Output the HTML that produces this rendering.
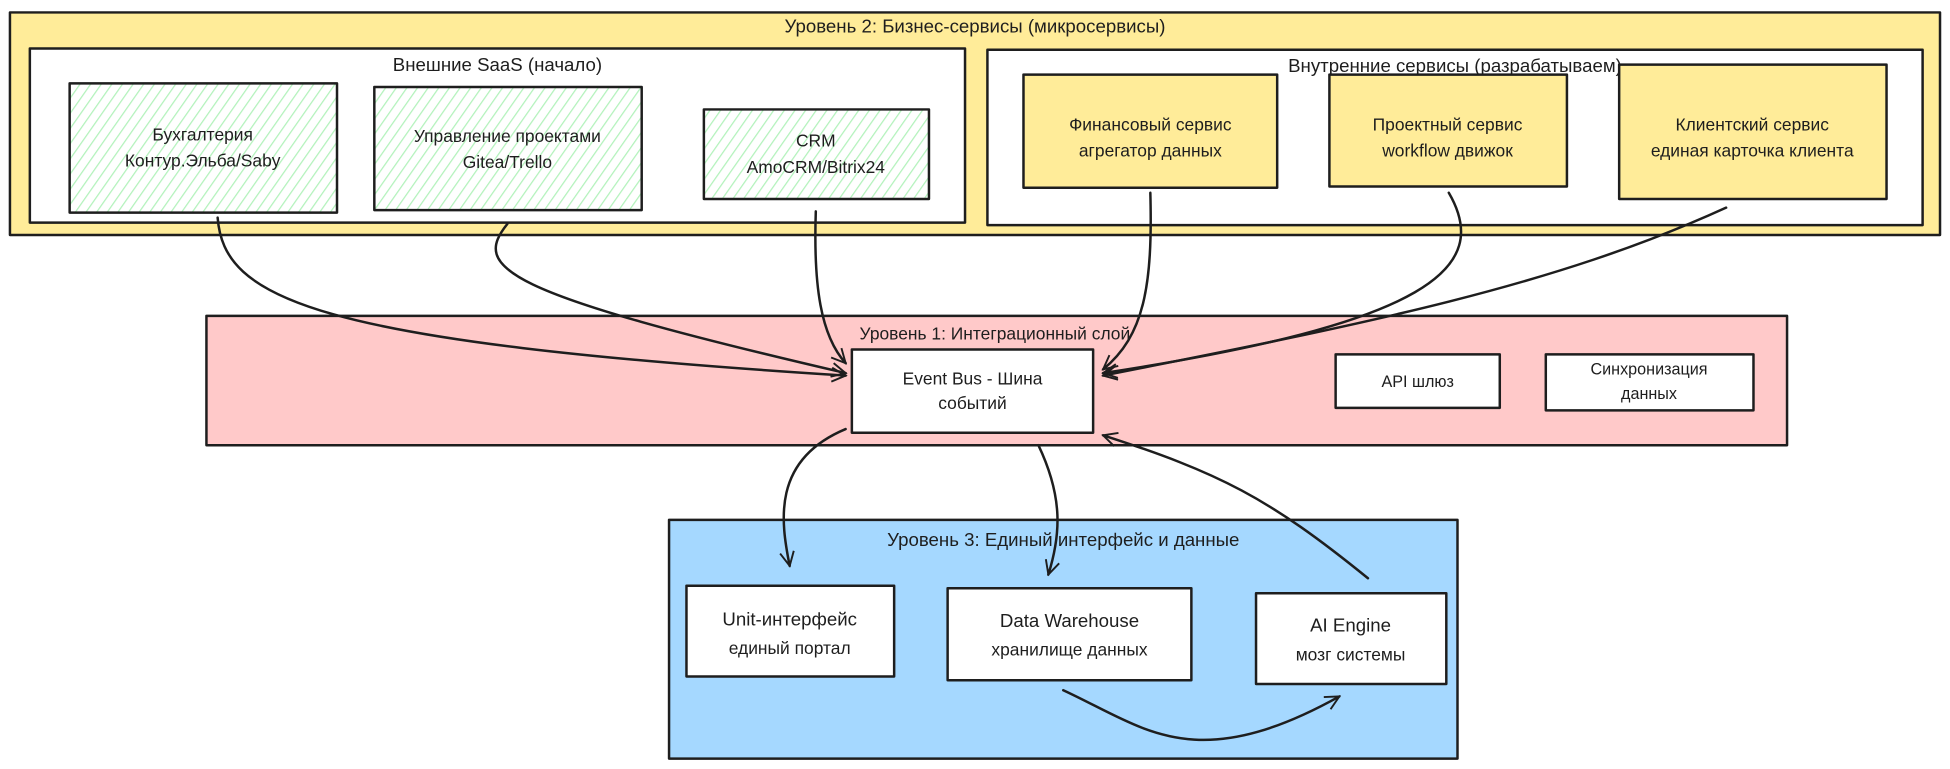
<!DOCTYPE html>
<html><head><meta charset="utf-8">
<style>
html,body{margin:0;padding:0;background:#fff;width:1950px;height:769px;overflow:hidden}
svg{display:block}
text{font-family:"Liberation Sans","Noto Sans CJK SC",sans-serif;fill:#1e1e1e}
</style></head><body>
<svg width="1950" height="769" viewBox="0 0 1950 769" xmlns="http://www.w3.org/2000/svg">
<defs>
<pattern id="h" width="7" height="7" patternUnits="userSpaceOnUse" patternTransform="rotate(35)">
<rect width="7" height="7" fill="#fff"/>
<line x1="0" y1="0" x2="0" y2="7" stroke="#b2f2bb" stroke-width="2"/>
</pattern>
<marker id="a" viewBox="0 0 20 20" refX="18" refY="10" markerWidth="14" markerHeight="14" orient="auto" markerUnits="userSpaceOnUse">
<polyline points="2,2 18,10 2,18" fill="none" stroke="#1e1e1e" stroke-width="2.2"/>
</marker>
</defs>
<g transform="scale(1.2436)" stroke-linejoin="round">
<rect x="8" y="10" width="1552" height="179" fill="#ffec99" stroke="#1e1e1e" stroke-width="2"/>
<text x="784" y="26" font-size="15" text-anchor="middle">Уровень 2: Бизнес-сервисы (микросервисы)</text>
<rect x="24" y="39" width="752" height="140" fill="#fff" stroke="#1e1e1e" stroke-width="2"/>
<text x="400" y="57" font-size="15" text-anchor="middle">Внешние SaaS (начало)</text>
<rect x="56" y="67" width="215" height="104" fill="url(#h)" stroke="#1e1e1e" stroke-width="2"/>
<text x="163" y="113" font-size="14" text-anchor="middle">Бухгалтерия</text>
<text x="163" y="134" font-size="14" text-anchor="middle">Контур.Эльба/Saby</text>
<rect x="301" y="70" width="215" height="99" fill="url(#h)" stroke="#1e1e1e" stroke-width="2"/>
<text x="408" y="114" font-size="14" text-anchor="middle">Управление проектами</text>
<text x="408" y="135" font-size="14" text-anchor="middle">Gitea/Trello</text>
<rect x="566" y="88" width="181" height="72" fill="url(#h)" stroke="#1e1e1e" stroke-width="2"/>
<text x="656" y="118" font-size="14" text-anchor="middle">CRM</text>
<text x="656" y="139" font-size="14" text-anchor="middle">AmoCRM/Bitrix24</text>

<rect x="794" y="40" width="752" height="141" fill="#fff" stroke="#1e1e1e" stroke-width="2"/>
<text x="1170" y="58" font-size="15" text-anchor="middle">Внутренние сервисы (разрабатываем)</text>
<rect x="823" y="60" width="204" height="91" fill="#ffec99" stroke="#1e1e1e" stroke-width="2"/>
<text x="925" y="105" font-size="14" text-anchor="middle">Финансовый сервис</text>
<text x="925" y="126" font-size="14" text-anchor="middle">агрегатор данных</text>
<rect x="1069" y="60" width="191" height="90" fill="#ffec99" stroke="#1e1e1e" stroke-width="2"/>
<text x="1164" y="105" font-size="14" text-anchor="middle">Проектный сервис</text>
<text x="1164" y="126" font-size="14" text-anchor="middle">workflow движок</text>
<rect x="1302" y="52" width="215" height="108" fill="#ffec99" stroke="#1e1e1e" stroke-width="2"/>
<text x="1409" y="105" font-size="14" text-anchor="middle">Клиентский сервис</text>
<text x="1409" y="126" font-size="14" text-anchor="middle">единая карточка клиента</text>

<rect x="166" y="254" width="1271" height="104" fill="#ffc9c9" stroke="#1e1e1e" stroke-width="2"/>
<text x="800" y="273" font-size="14" text-anchor="middle">Уровень 1: Интеграционный слой</text>
<rect x="685" y="281" width="194" height="67" fill="#fff" stroke="#1e1e1e" stroke-width="2"/>
<text x="782" y="309" font-size="14" text-anchor="middle">Event Bus - Шина</text>
<text x="782" y="329" font-size="14" text-anchor="middle">событий</text>
<rect x="1074" y="285" width="132" height="43" fill="#fff" stroke="#1e1e1e" stroke-width="2"/>
<text x="1140" y="311" font-size="13" text-anchor="middle">API шлюз</text>
<rect x="1243" y="285" width="167" height="45" fill="#fff" stroke="#1e1e1e" stroke-width="2"/>
<text x="1326" y="301" font-size="13" text-anchor="middle">Синхронизация</text>
<text x="1326" y="321" font-size="13" text-anchor="middle">данных</text>

<rect x="538" y="418" width="634" height="192" fill="#a5d8ff" stroke="#1e1e1e" stroke-width="2"/>
<text x="855" y="439" font-size="15" text-anchor="middle">Уровень 3: Единый интерфейс и данные</text>
<rect x="552" y="471" width="167" height="73" fill="#fff" stroke="#1e1e1e" stroke-width="2"/>
<text x="635" y="503" font-size="15" text-anchor="middle">Unit-интерфейс</text>
<text x="635" y="526" font-size="14" text-anchor="middle">единый портал</text>
<rect x="762" y="473" width="196" height="74" fill="#fff" stroke="#1e1e1e" stroke-width="2"/>
<text x="860" y="504" font-size="15" text-anchor="middle">Data Warehouse</text>
<text x="860" y="527" font-size="14" text-anchor="middle">хранилище данных</text>
<rect x="1010" y="477" width="153" height="73" fill="#fff" stroke="#1e1e1e" stroke-width="2"/>
<text x="1086" y="508" font-size="15" text-anchor="middle">AI Engine</text>
<text x="1086" y="531" font-size="14" text-anchor="middle">мозг системы</text>

<g fill="none" stroke="#1e1e1e" stroke-width="2" stroke-linecap="round" marker-end="url(#a)">
<path d="M175,175 C180,240 250,275 680,302"/>
<path d="M408,180 C380,215 400,235 680,300"/>
<path d="M656,170 C654,230 660,270 680,292"/>
<path d="M925,155 C927,230 920,270 887,297"/>
<path d="M1165,155 C1200,215 1150,260 887,300"/>
<path d="M1388,167 C1250,230 1100,260 887,302"/>
<path d="M680,345 C620,370 628,420 635,455"/>
<path d="M835,358 C855,400 853,430 843,462"/>
<path d="M1100,465 C1020,400 980,380 887,350"/>
<path d="M855,555 C920,585 960,625 1077,560"/>
</g>
</g>
</svg>
</body></html>
